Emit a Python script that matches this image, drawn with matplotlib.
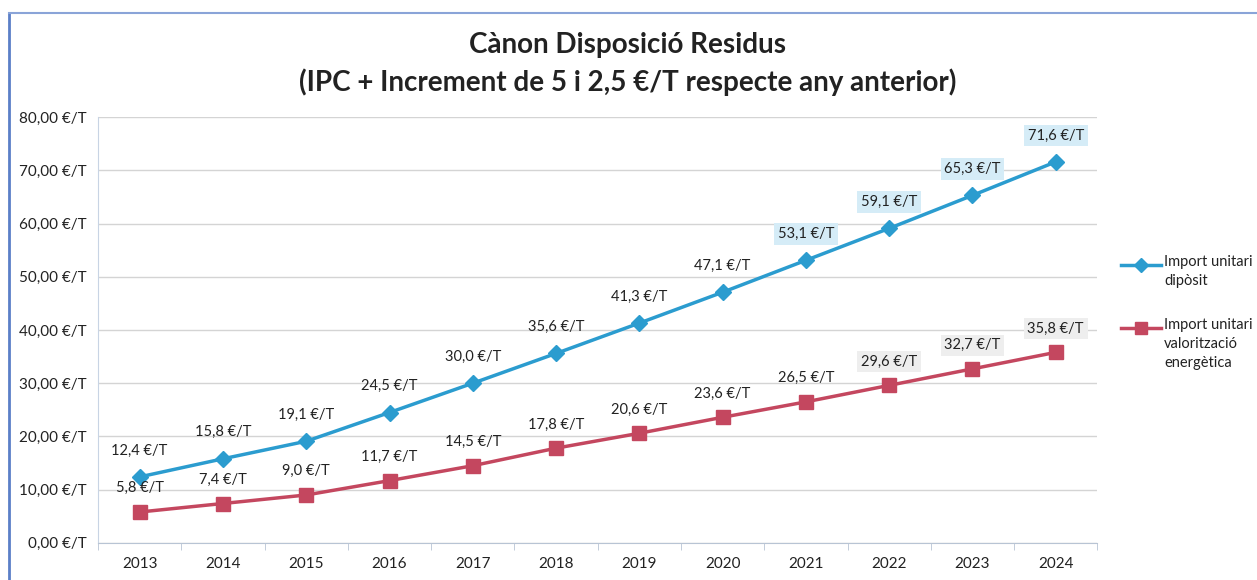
import matplotlib
matplotlib.use("Agg")
import matplotlib.pyplot as plt
from matplotlib.lines import Line2D

plt.rcParams['font.family'] = ['Lato', 'DejaVu Sans']

years = ['2013', '2014', '2015', '2016', '2017', '2018', '2019', '2020', '2021', '2022', '2023', '2024']
diposit = [12.4, 15.8, 19.1, 24.5, 30.0, 35.6, 41.3, 47.1, 53.1, 59.1, 65.3, 71.6]
valoritzacio = [5.8, 7.4, 9.0, 11.7, 14.5, 17.8, 20.6, 23.6, 26.5, 29.6, 32.7, 35.8]
yticks = [0, 10, 20, 30, 40, 50, 60, 70, 80]
legend_labels = ['Import unitari\ndipòsit', 'Import unitari\nvalorització\nenergètica']

blue = '#2b9ccf'
red = '#c4475f'

fig = plt.figure(figsize=(12.57, 5.8), dpi=100)
ax = fig.add_axes([0.078, 0.064, 0.795, 0.734])

x = list(range(len(years)))
ax.plot(x, diposit, color=blue, lw=2.5, marker='D', ms=8, zorder=3)
ax.plot(x, valoritzacio, color=red, lw=2.5, marker='s', ms=10, zorder=3)

# data labels
for i, v in enumerate(diposit):
    box = dict(boxstyle='square,pad=0.25', fc='#d5ecf7', ec='none') if i >= 8 else None
    ax.annotate(f'{v:.1f} €/T'.replace('.', ','), (i, v), xytext=(0, 14), textcoords='offset points',
                ha='center', va='bottom', fontsize=10.5, color='#222222', bbox=box, zorder=4)
for i, v in enumerate(valoritzacio):
    box = dict(boxstyle='square,pad=0.25', fc='#eeeeee', ec='none') if i >= 9 else None
    ax.annotate(f'{v:.1f} €/T'.replace('.', ','), (i, v), xytext=(0, 12), textcoords='offset points',
                ha='center', va='bottom', fontsize=10.5, color='#222222', bbox=box, zorder=4)

ax.set_xlim(-0.5, len(years) - 0.5)
ax.set_ylim(0, 80)
ax.set_yticks(yticks)
ax.set_yticklabels([f'{t:.2f} €/T'.replace('.', ',') for t in yticks], fontsize=11, color='#222222')
ax.set_xticks(x)
ax.set_xticklabels(years, fontsize=11, color='#222222')
ax.set_xticks([i - 0.5 for i in range(len(years) + 1)], minor=True)
ax.tick_params(axis='x', which='major', length=0, pad=10)
ax.tick_params(axis='x', which='minor', length=5, color='#b8c4d4')
ax.tick_params(axis='y', length=0, pad=8)
ax.grid(axis='y', color='#d4d4d4', lw=1)
ax.set_axisbelow(True)
for s in ['top', 'right']:
    ax.spines[s].set_visible(False)
ax.spines['left'].set_color('#c8d4e4')
ax.spines['bottom'].set_color('#b8c4d4')

fig.text(0.499, 0.922, 'Cànon Disposició Residus', ha='center', va='center',
         fontsize=20, fontweight='bold', color='#222222')
fig.text(0.499, 0.858, '(IPC + Increment de 5 i 2,5 €/T respecte any anterior)', ha='center', va='center',
         fontsize=20, fontweight='bold', color='#222222')

# legend, handle aligned with the first text line
for (ly, col, mk, ms, lab) in [(0.543, blue, 'D', 7, legend_labels[0]),
                                (0.434, red, 's', 9, legend_labels[1])]:
    fig.add_artist(Line2D([0.892, 0.924], [ly, ly], color=col, lw=2.5))
    fig.add_artist(Line2D([0.908], [ly], color=col, marker=mk, ms=ms))
    fig.text(0.926, ly + 0.018, lab, ha='left', va='top', fontsize=10.5, color='#222222',
             linespacing=1.45)

# scan frame
fig.add_artist(Line2D([0.007, 0.007], [0.0, 0.978], color='#5b7fc7', lw=2))
fig.add_artist(Line2D([0.007, 1.0], [0.978, 0.978], color='#8aa4d8', lw=1.5))

fig.savefig('out.png', dpi=100)
